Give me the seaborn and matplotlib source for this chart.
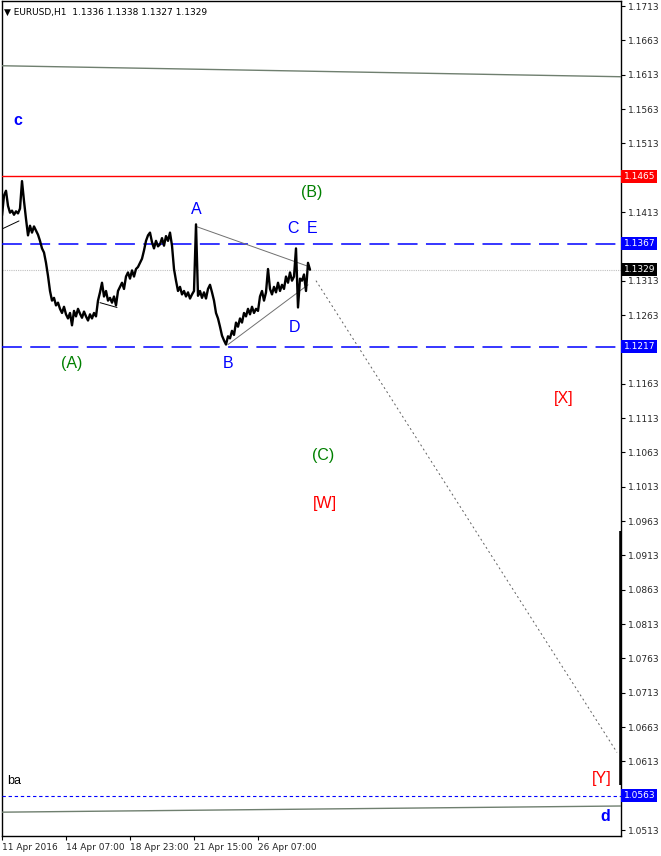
import matplotlib
matplotlib.use("Agg")
import matplotlib.pyplot as plt
import numpy as np
import pandas as pd
import seaborn as sns

CLOSES = [
    1.1408, 1.1437, 1.1444, 1.1422, 1.1412, 1.1415, 1.1409, 1.1414, 1.1411, 1.1418,
    1.1458, 1.1429, 1.1403, 1.1379, 1.1393, 1.1383, 1.1392, 1.1386, 1.1380, 1.1371,
    1.1360, 1.1354, 1.1339, 1.1320, 1.1298, 1.1284, 1.1288, 1.1277, 1.1281, 1.1272,
    1.1266, 1.1275, 1.1264, 1.1258, 1.1266, 1.1248, 1.1269, 1.1261, 1.1272, 1.1265,
    1.1259, 1.1268, 1.1261, 1.1255, 1.1264, 1.1258, 1.1266, 1.1261, 1.1284, 1.1296,
    1.1310, 1.1290, 1.1298, 1.1284, 1.1288, 1.1281, 1.1290, 1.1277, 1.1298, 1.1304,
    1.1310, 1.1301, 1.1319, 1.1325, 1.1316, 1.1328, 1.1319, 1.1330, 1.1333, 1.1339,
    1.1345, 1.1357, 1.1371, 1.1379, 1.1383, 1.1369, 1.1360, 1.1371, 1.1363, 1.1366,
    1.1375, 1.1364, 1.1378, 1.1371, 1.1383, 1.1364, 1.1330, 1.1313, 1.1298, 1.1304,
    1.1293, 1.1298, 1.1290, 1.1296, 1.1287, 1.1293, 1.1298, 1.1395, 1.1291, 1.1298,
    1.1288, 1.1296, 1.1287, 1.1301, 1.1307, 1.1296, 1.1284, 1.1266, 1.1258, 1.1246,
    1.1233, 1.1226, 1.1220, 1.1232, 1.1229, 1.1240, 1.1234, 1.1252, 1.1246, 1.1258,
    1.1252, 1.1266, 1.1261, 1.1272, 1.1264, 1.1275, 1.1266, 1.1272, 1.1269, 1.1290,
    1.1298, 1.1284, 1.1296, 1.1330, 1.1301, 1.1293, 1.1304, 1.1296, 1.1310, 1.1298,
    1.1307, 1.1301, 1.1319, 1.1310, 1.1325, 1.1313, 1.1319, 1.1360, 1.1274, 1.1316,
    1.1313, 1.1322, 1.1298, 1.1339, 1.1329,
]
BAR_STEP = 2

# horizontal levels
LEVEL_RED = 1.1465
LEVELS_BLUE = [1.1367, 1.1217]
LEVEL_BID = 1.1329
LEVEL_TARGET = 1.0563

# trend lines: (bar0, price0, bar1, price1)
CHANNEL_TOP = (0, 1.1626, 619, 1.1610)
CHANNEL_BOT = (0, 1.0539, 619, 1.0548)
TRI_UPPER = (194, 1.1392, 306, 1.1334)
TRI_LOWER = (226, 1.1220, 306, 1.1307)
SMALL_LINES = [(1, 1.1389, 17, 1.1400), (98, 1.1281, 115, 1.1274)]
PROJECTION = (314, 1.1313, 615, 1.0626)
VOL_BAR = (619, 1.0949, 1.0578)

# wave labels: text, bar, price, colour
WAVE_TEXT = ["c", "(B)", "A", "C", "E", "D", "B", "(A)", "(C)", "[W]", "[X]", "[Y]", "d", "ba"]
WAVE_BAR = [16, 310, 194, 291, 310, 292, 226, 70, 321, 323, 562, 600, 603, 12]
WAVE_PRICE = [1.1546, 1.1442, 1.1416, 1.1389, 1.1389, 1.1245, 1.1192, 1.1192,
              1.1058, 1.0988, 1.1142, 1.0588, 1.0532, 1.0584]
WAVE_COLOR = ["#0000FF", "#008000", "#0000FF", "#0000FF", "#0000FF", "#0000FF",
              "#0000FF", "#008000", "#008000", "#FF0000", "#FF0000", "#FF0000",
              "#0000FF", "#000000"]

TICK_BARS = [0, 64, 128, 192, 256]
TICK_LABELS = ["11 Apr 2016", "14 Apr 07:00", "18 Apr 23:00", "21 Apr 15:00", "26 Apr 07:00"]
YTICKS = [round(1.0513 + 0.005 * i, 4) for i in range(25)]
# price-axis labels hidden behind the level boxes
HIDDEN_YTICKS = [1.1463, 1.1363, 1.1213, 1.0563]

sns.set_style("white")
plt.rcParams["font.family"] = ["Liberation Sans", "DejaVu Sans"]

fig = plt.figure(figsize=(6.61, 8.56), dpi=100)
ax = fig.add_axes([2 / 661, 20 / 856, 619 / 661, 835 / 856])

df = pd.DataFrame({"bar": np.arange(len(CLOSES)) * BAR_STEP, "close": CLOSES})
sns.lineplot(data=df, x="bar", y="close", ax=ax, color="black", lw=1.7, zorder=5)

ax.axhline(LEVEL_RED, color="#FF0000", lw=1.0, zorder=3)
for lv in LEVELS_BLUE:
    ax.axhline(lv, color="#0000FF", lw=1.1, linestyle=(0, (13, 5.5)), zorder=3)
ax.axhline(LEVEL_BID, color="#C0C0C0", lw=0.8, linestyle=(0, (1, 1)), zorder=2)
ax.axhline(LEVEL_TARGET, color="#0000FF", lw=0.8, linestyle=(0, (3, 2.5)), zorder=3)

for x0, y0, x1, y1 in [CHANNEL_TOP, CHANNEL_BOT]:
    ax.plot([x0, x1], [y0, y1], color="#6F7F6F", lw=1.0, zorder=3)
for x0, y0, x1, y1 in [TRI_UPPER, TRI_LOWER]:
    ax.plot([x0, x1], [y0, y1], color="#707070", lw=0.7, zorder=4)
for x0, y0, x1, y1 in SMALL_LINES:
    ax.plot([x0, x1], [y0, y1], color="black", lw=0.7, zorder=4)
x0, y0, x1, y1 = PROJECTION
ax.plot([x0, x1], [y0, y1], color="#606060", lw=0.7, linestyle=(0, (2, 3)), zorder=3)
ax.plot([VOL_BAR[0], VOL_BAR[0]], [VOL_BAR[1], VOL_BAR[2]], color="black", lw=2.6,
        solid_capstyle="butt", zorder=4)

for t, b, p, c in zip(WAVE_TEXT, WAVE_BAR, WAVE_PRICE, WAVE_COLOR):
    bold = t in ("c", "d")
    size = 9 if t == "ba" else 11.5
    ax.text(b, p, t, color=c, fontsize=size, ha="center", va="center",
            fontweight="bold" if bold else "normal", zorder=6)

ax.set_xlim(0, 619)
ax.set_ylim(1.05043, 1.17203)
ax.yaxis.tick_right()
ax.set_yticks(YTICKS)
ax.set_yticklabels(["" if v in HIDDEN_YTICKS else f"{v:.4f}" for v in YTICKS],
                   fontsize=6.5, family="DejaVu Sans")
ax.set_xticks(TICK_BARS)
ax.set_xticklabels(TICK_LABELS, fontsize=6.5, family="DejaVu Sans", ha="left")
ax.tick_params(axis="both", direction="out", length=3, width=0.8, color="black", pad=2,
               right=True, bottom=True, left=False)
ax.set_xlabel("")
ax.set_ylabel("")
for s in ax.spines.values():
    s.set_color("black")
    s.set_linewidth(1.0)

trans = ax.get_yaxis_transform()
for price, fc in [(LEVEL_RED, "#FF0000"), (LEVELS_BLUE[0], "#0000FF"), (LEVELS_BLUE[1], "#0000FF"),
                  (LEVEL_BID, "#000000"), (LEVEL_TARGET, "#0000FF")]:
    ax.text(1.004, price, f"{price:.4f}", transform=trans, color="white", fontsize=6.5,
            family="DejaVu Sans", ha="left", va="center", clip_on=False, zorder=10,
            bbox=dict(boxstyle="square,pad=0.22", fc=fc, ec="none"))

ax.text(0.004, 0.992, "\u25bc EURUSD,H1  1.1336 1.1338 1.1327 1.1329", transform=ax.transAxes,
        fontsize=6.5, family="DejaVu Sans", ha="left", va="top", color="black")

fig.savefig("out.png", dpi=100, facecolor="white")
